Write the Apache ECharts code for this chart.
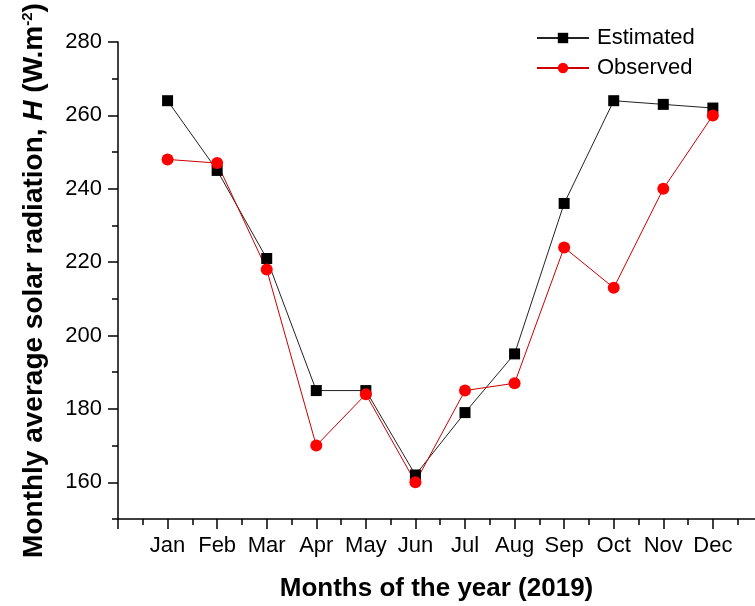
<!DOCTYPE html>
<html>
<head>
<meta charset="utf-8">
<script src="https://cdn.jsdelivr.net/npm/echarts@6/dist/echarts.min.js"></script>
<style>
    html, body { margin: 0; padding: 0; background: #fff; }
    #solarChart { width: 755px; height: 606px; }
</style>
</head>
<body>
<div id="solarChart"></div>
<script>
// 数据
var months = ['Jan', 'Feb', 'Mar', 'Apr', 'May', 'Jun', 'Jul', 'Aug', 'Sep', 'Oct', 'Nov', 'Dec'];
var estimated = [264, 245, 221, 185, 185, 162, 179, 195, 236, 264, 263, 262];
var observed = [248, 247, 218, 170, 184, 160, 185, 187, 224, 213, 240, 260];
var yMajorTicks = [160, 180, 200, 220, 240, 260, 280];
var yMinorTicks = [150, 170, 190, 210, 230, 250, 270];

/**
 * 月份序号 -> [x, y]
 */
function toPoints(values) {
    return values.map(function (v, i) {
        return [i + 1, v];
    });
}

var FONT = '"Liberation Sans", Arial, sans-serif';

function solarChart() {
    var dom = document.getElementById('solarChart');
    var myChart = echarts.init(dom, null, {renderer: 'canvas'});
    var xMajor = [];
    var xMinor = [];
    for (var i = 0; i <= months.length; i++) {
        xMajor.push(i);
        xMinor.push(i + 0.5);
    }
    xMinor = xMinor.filter(function (v) { return v < 12.85; });
    var option = {
        animation: false,
        backgroundColor: '#fff',
        grid: {left: 118, right: 0, top: 42, bottom: 87, containLabel: false, outerBoundsMode: 'none'},
        legend: {
            orient: 'vertical',
            left: 531,
            top: 22,
            itemWidth: 52,
            itemHeight: 13,
            itemGap: 8,
            textStyle: {fontFamily: FONT, fontSize: 22, color: '#000', padding: [0, 0, 0, 3]},
            data: ['Estimated', 'Observed']
        },
        xAxis: [
            {
                type: 'value',
                min: 0,
                max: 12.85,
                name: 'Months of the year (2019)',
                nameLocation: 'middle',
                nameGap: 57,
                nameTextStyle: {fontFamily: FONT, fontSize: 26, fontWeight: 'bold', color: '#000'},
                splitLine: {show: false},
                axisLine: {onZero: false, lineStyle: {color: '#000', width: 1.5}},
                axisTick: {show: true, length: 10, customValues: xMajor, lineStyle: {color: '#000', width: 1.5}},
                axisLabel: {
                    customValues: months.map(function (m, i) { return i + 1; }),
                    fontFamily: FONT, fontSize: 22, color: '#000', margin: 16,
                    formatter: function (v) { return months[Math.round(v) - 1] || ''; }
                }
            },
            {
                type: 'value',
                min: 0,
                max: 12.85,
                position: 'bottom',
                splitLine: {show: false},
                axisLine: {show: false, onZero: false},
                axisTick: {show: true, length: 6, customValues: xMinor, lineStyle: {color: '#000', width: 1.5}},
                axisLabel: {show: false}
            }
        ],
        yAxis: [
            {
                type: 'value',
                min: 150,
                max: 280,
                interval: 10,
                position: 'left',
                name: 'Monthly average solar radiation, {i|H} (W.m{s|-2})',
                nameLocation: 'middle',
                nameGap: 69,
                nameTextStyle: {
                    fontFamily: FONT, fontSize: 28, fontWeight: 'bold', color: '#000',
                    rich: {
                        i: {fontFamily: FONT, fontSize: 28, fontWeight: 'bold', fontStyle: 'italic', color: '#000'},
                        s: {fontFamily: FONT, fontSize: 15, fontWeight: 'bold', color: '#000', padding: [0, 0, 14, 0]}
                    }
                },
                splitLine: {show: false},
                axisLine: {onZero: false, lineStyle: {color: '#000', width: 1.5}},
                axisTick: {show: true, length: 10, customValues: yMajorTicks, lineStyle: {color: '#000', width: 1.5}},
                axisLabel: {customValues: yMajorTicks, fontFamily: FONT, fontSize: 22, color: '#000', margin: 16}
            },
            {
                type: 'value',
                min: 150,
                max: 280,
                interval: 10,
                position: 'left',
                splitLine: {show: false},
                axisLine: {show: false, onZero: false},
                axisTick: {show: true, length: 6, customValues: yMinorTicks, lineStyle: {color: '#000', width: 1.5}},
                axisLabel: {show: false}
            }
        ],
        series: [
            {
                name: 'Estimated',
                type: 'line',
                data: toPoints(estimated),
                symbol: 'rect',
                symbolSize: 11,
                itemStyle: {color: '#000'},
                lineStyle: {color: '#222', width: 1}
            },
            {
                name: 'Observed',
                type: 'line',
                data: toPoints(observed),
                symbol: 'circle',
                symbolSize: 12,
                itemStyle: {color: '#ff0000'},
                lineStyle: {color: '#cc0000', width: 1}
            }
        ]
    };
    if (option && typeof option === "object") {
        myChart.setOption(option, true);
    }
    window.addEventListener('resize', function () {
        myChart.resize();
    });
}

solarChart();
</script>
</body>
</html>
